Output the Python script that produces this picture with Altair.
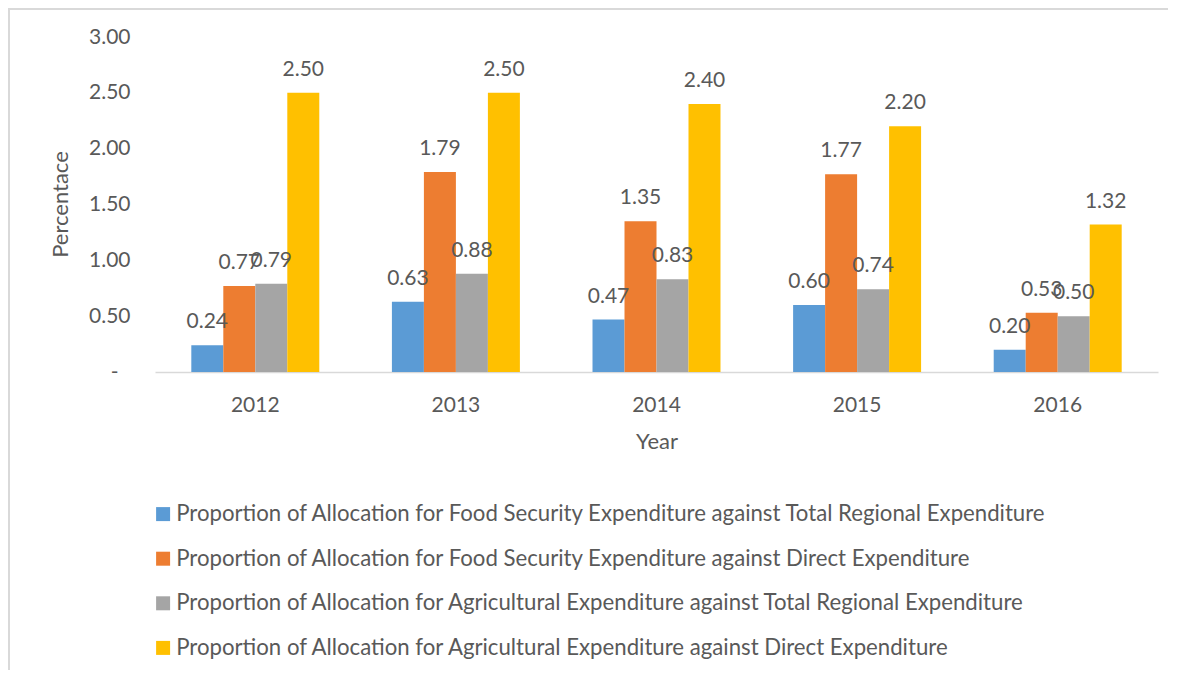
import altair as alt
import pandas as pd

years = ["2012", "2013", "2014", "2015", "2016"]
series = [
    "Proportion of Allocation for Food Security Expenditure against Total Regional Expenditure",
    "Proportion of Allocation for Food Security Expenditure against Direct Expenditure",
    "Proportion of Allocation for Agricultural Expenditure against Total Regional Expenditure",
    "Proportion of Allocation for Agricultural Expenditure against Direct Expenditure",
]
food_total = [0.24, 0.63, 0.47, 0.60, 0.20]
food_direct = [0.77, 1.79, 1.35, 1.77, 0.53]
agri_total = [0.79, 0.88, 0.83, 0.74, 0.50]
agri_direct = [2.50, 2.50, 2.40, 2.20, 1.32]
colors = ["#5B9BD5", "#ED7D31", "#A5A5A5", "#FFC000"]

rows = []
for s, vals in zip(series, [food_total, food_direct, agri_total, agri_direct]):
    for y, v in zip(years, vals):
        rows.append({"Year": y, "Series": s, "Value": v})
df = pd.DataFrame(rows)

FONT = "Lato"
TXT = "#595959"

x_enc = alt.X(
    "Year:N",
    sort=years,
    scale=alt.Scale(paddingInner=0.362, paddingOuter=0.181),
    axis=alt.Axis(
        title="Year",
        labelAngle=0,
        ticks=False,
        tickSize=0,
        labelPadding=22,
        domainColor="#D9D9D9",
        domainWidth=1.5,
        titleY=69,
        titleBaseline="middle",
        labelFontSize=21,
        titleFontSize=22,
        titleFontWeight="normal",
        labelFont=FONT,
        titleFont=FONT,
        labelColor=TXT,
        titleColor=TXT,
    ),
)
xoff = alt.XOffset("Series:N", sort=series, scale=alt.Scale(domain=series))
y_enc = alt.Y(
    "Value:Q",
    scale=alt.Scale(domain=[0, 3]),
    axis=alt.Axis(
        title="Percentace",
        values=[0, 0.5, 1, 1.5, 2, 2.5, 3],
        labelExpr="datum.value == 0 ? '-' : format(datum.value, '.2f')",
        labelPadding={"condition": {"test": "datum.value == 0", "value": 37}, "value": 25},
        grid=False,
        ticks=False,
        tickSize=0,
        domain=False,
        labelFontSize=21,
        titleFontSize=22,
        titleFontWeight="normal",
        labelFont=FONT,
        titleFont=FONT,
        labelColor=TXT,
        titleColor=TXT,
        titleX=-95,
        titleY=167,
        titleAngle=-90,
        titleAlign="center",
        titleBaseline="middle",
    ),
)

bars = alt.Chart(df).mark_bar().encode(
    x=x_enc,
    xOffset=xoff,
    y=y_enc,
    color=alt.Color(
        "Series:N",
        sort=series,
        scale=alt.Scale(domain=series, range=colors),
        legend=alt.Legend(
            title=None,
            orient="none",
            legendX=-3,
            legendY=466,
            direction="vertical",
            symbolType="square",
            symbolSize=196,
            symbolStrokeWidth=0,
            labelFontSize=22.2,
            labelFont=FONT,
            labelColor=TXT,
            labelLimit=1100,
            labelOffset=2,
            rowPadding=21.6,
            padding=0,
        ),
    ),
)

labels = alt.Chart(df).mark_text(
    baseline="alphabetic", dy=-17, fontSize=21, font=FONT, color=TXT
).encode(
    x=alt.X("Year:N", sort=years),
    xOffset=alt.XOffset("Series:N", sort=series),
    y="Value:Q",
    text=alt.Text("Value:Q", format=".2f"),
)

frame = alt.Chart(alt.Data(values=[{}])).mark_rect(
    fill="transparent", stroke="#D9D9D9", strokeWidth=2
).encode(
    x=alt.value(-146), x2=alt.value(1040), y=alt.value(-28), y2=alt.value(700)
)

chart = (
    alt.layer(frame, bars, labels)
    .properties(
        width=1003,
        height=335,
        background="white",
        padding={"left": 147, "top": 29, "right": 10, "bottom": 298},
        autosize=alt.AutoSizeParams(type="none"),
    )
    .configure_view(stroke="transparent", strokeWidth=0)
)

chart.save("out.html", embed_options={"renderer": "svg", "actions": False})
